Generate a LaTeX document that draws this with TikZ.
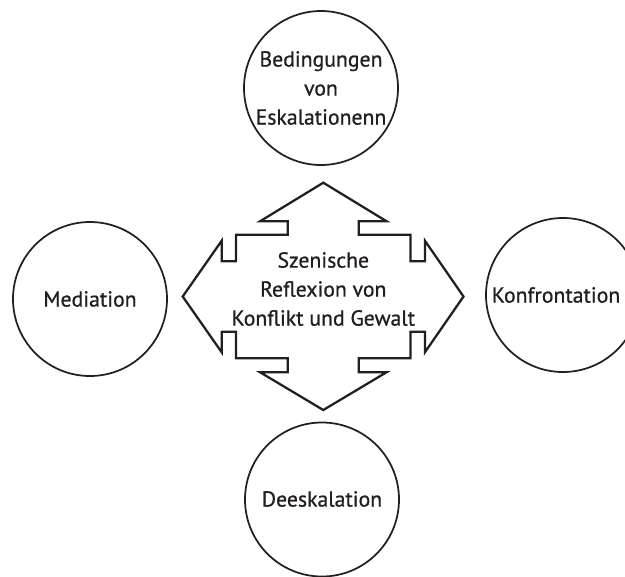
\documentclass[tikz,border=0pt]{standalone}
\usepackage{fontspec}
\setmainfont{PT Sans}[FakeBold=0.8]
\definecolor{ink}{HTML}{231F20}
\begin{document}
\begin{tikzpicture}[x=0.75pt,y=-0.75pt,
  circ/.style={draw=ink,line width=1.3pt,circle,minimum size=115.5pt,inner sep=0pt},
  lbl/.style={text=ink,font=\fontsize{16.3}{21.75}\selectfont,align=center},
  cross/.style={draw=ink,line width=1.7pt,line join=miter}]
\useasboundingbox (0,0) rectangle (625,576);
\begin{scope}
\clip (0,0) rectangle (625,576);
\node[circ] (top) at (321,88) {};
\node[circ] (left) at (90,299) {};
\node[circ] (right) at (563,295) {};
\node[circ] (bottom) at (322,499.5) {};
\end{scope}
\node[lbl] (toptxt) at (321,88) {Bedingungen\\von\\Eskalationenn};
\node[lbl] (lefttxt) at (90,299) {Mediation};
\node[lbl] (righttxt) at (556,295) {Konfrontation};
\node[lbl] (bottomtxt) at (322,499) {Deeskalation};
% central four-way arrow
\begin{scope}[shift={(323.3,296.5)}]
\draw[cross] (0,-113.8) -- (63.3,-75.2) -- (35.5,-75.2) -- (35.5,-61.7)
  -- (87.2,-61.7) -- (87.2,-35.3) -- (101.6,-35.3) -- (101.6,-55.8)
  -- (140.2,0) -- (101.6,55.8) -- (101.6,35.3) -- (87.2,35.3)
  -- (87.2,61.7) -- (35.5,61.7) -- (35.5,75.7) -- (63.3,75.7)
  -- (0,113.5) -- (-63.3,75.7) -- (-35.5,75.7) -- (-35.5,61.7)
  -- (-87.2,61.7) -- (-87.2,35.3) -- (-101.6,35.3) -- (-101.6,55.8)
  -- (-140.6,0) -- (-101.6,-55.8) -- (-101.6,-35.3) -- (-87.2,-35.3)
  -- (-87.2,-61.7) -- (-35.5,-61.7) -- (-35.5,-75.2) -- (-63.3,-75.2) -- cycle;
\end{scope}
\node[lbl] (center) at (323.3,289) {Szenische\\Reflexion von\\Konflikt und Gewalt};
\end{tikzpicture}
\end{document}
